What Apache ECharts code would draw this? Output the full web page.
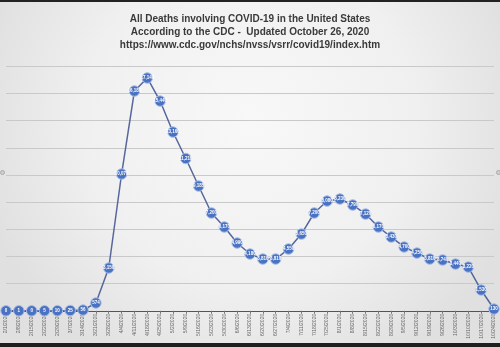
<!DOCTYPE html>
<html>
<head>
<meta charset="utf-8">
<script src="https://cdn.jsdelivr.net/npm/echarts@6/dist/echarts.min.js"></script>
<style>
  html, body { margin: 0; padding: 0; }
  #chart { width: 500px; height: 347px; }
</style>
</head>
<body>
<div id="chart"></div>
<script>
// Weekly COVID-19 deaths in the US (week ending dates)
const weeks = [
  '2/1/2020', '2/8/2020', '2/15/2020', '2/22/2020', '2/29/2020', '3/7/2020', '3/14/2020',
  '3/21/2020', '3/28/2020', '4/4/2020', '4/11/2020', '4/18/2020', '4/25/2020', '5/2/2020',
  '5/9/2020', '5/16/2020', '5/23/2020', '5/30/2020', '6/6/2020', '6/13/2020', '6/20/2020',
  '6/27/2020', '7/4/2020', '7/11/2020', '7/18/2020', '7/25/2020', '8/1/2020', '8/8/2020',
  '8/15/2020', '8/22/2020', '8/29/2020', '9/5/2020', '9/12/2020', '9/19/2020', '9/26/2020',
  '10/3/2020', '10/10/2020', '10/17/2020', '10/24/2020'
];

const deaths = [
  0, 1, 0, 5, 10, 25, 56,
  574, 3150, 10070, 16180, 17140, 15440, 13160,
  11210, 9185, 7200, 6170, 4990, 4180, 3810,
  3810, 4550, 5650, 7200, 8080, 8230, 7790,
  7120, 6170, 5430, 4700, 4250, 3810, 3740,
  3440, 3220, 1530, 130
];

const titleLines = [
  'All Deaths involving COVID-19 in the United States',
  'According to the CDC -  Updated October 26, 2020',
  'https://www.cdc.gov/nchs/nvss/vsrr/covid19/index.htm'
];

const chart = echarts.init(document.getElementById('chart'));

chart.setOption({
  animation: false,
  backgroundColor: {
    type: 'radial', x: 0.5, y: 0.35, r: 0.8,
    colorStops: [
      { offset: 0, color: '#f8f8f8' },
      { offset: 0.6, color: '#f0f0f0' },
      { offset: 1, color: '#e0e0e0' }
    ]
  },
  title: {
    text: titleLines.join('\n'),
    left: 245,
    textAlign: 'center',
    top: 8,
    textStyle: {
      fontFamily: '"Liberation Sans", Arial, sans-serif',
      fontWeight: 'bold',
      fontSize: 10,
      lineHeight: 13,
      color: '#3a3a3a'
    }
  },
  grid: { left: 6, right: 6, top: 66.3, bottom: 36.2 },
  xAxis: {
    type: 'category',
    data: weeks,
    boundaryGap: false,
    axisLine: { lineStyle: { color: '#555', width: 1 } },
    axisTick: { show: true, alignWithLabel: true, length: 3, lineStyle: { color: '#777' } },
    axisLabel: {
      interval: 0,
      rotate: 90,
      fontSize: 5,
      margin: 3,
      color: '#6a6a6a',
      fontFamily: '"Liberation Sans", sans-serif'
    }
  },
  yAxis: {
    type: 'value',
    min: 0,
    max: 18000,
    interval: 2000,
    axisLabel: { show: false },
    axisLine: { show: false },
    axisTick: { show: false },
    splitLine: { lineStyle: { color: '#c9c9c9', width: 1 } }
  },
  series: [{
    type: 'line',
    data: deaths,
    symbol: 'circle',
    symbolSize: 10.5,
    lineStyle: { color: '#55679c', width: 1.5 },
    itemStyle: {
      color: '#4a72c2',
      borderColor: '#a8bde6',
      borderWidth: 1
    },
    label: {
      show: true,
      position: 'inside',
      color: '#ffffff',
      fontSize: 4.5,
      fontWeight: 'bold',
      fontFamily: '"Liberation Sans", sans-serif',
      formatter: p => p.value.toLocaleString('en-US')
    },
    z: 3
  }],
  graphic: [
    { type: 'rect', left: 0, top: 0, shape: { width: 500, height: 2 }, style: { fill: '#222' }, silent: true },
    { type: 'rect', left: 0, top: 343, shape: { width: 500, height: 4 }, style: { fill: '#1e1e1e' }, silent: true },
    { type: 'circle', left: 0, top: 170, shape: { r: 2 }, style: { fill: '#cfcfcf', stroke: '#aaa' }, silent: true },
    { type: 'circle', left: 496, top: 170, shape: { r: 2 }, style: { fill: '#cfcfcf', stroke: '#aaa' }, silent: true }
  ]
});
</script>
</body>
</html>
